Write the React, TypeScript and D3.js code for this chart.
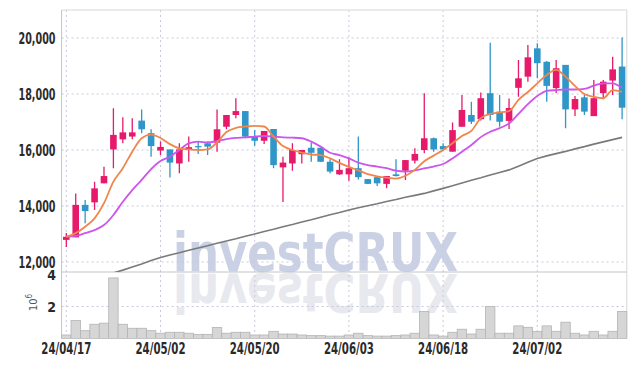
import React from "react";
import * as d3 from "d3";

const dates = [
  "24/04/17","24/04/18","24/04/19","24/04/22","24/04/23","24/04/24","24/04/25","24/04/26","24/04/29","24/04/30",
  "24/05/02","24/05/03","24/05/07","24/05/08","24/05/09","24/05/10","24/05/13","24/05/14","24/05/16","24/05/17",
  "24/05/20","24/05/21","24/05/22","24/05/23","24/05/24","24/05/27","24/05/28","24/05/29","24/05/30","24/05/31",
  "24/06/03","24/06/04","24/06/05","24/06/07","24/06/10","24/06/11","24/06/12","24/06/13","24/06/14","24/06/17",
  "24/06/18","24/06/19","24/06/20","24/06/21","24/06/24","24/06/25","24/06/26","24/06/27","24/06/28","24/07/01",
  "24/07/02","24/07/03","24/07/04","24/07/05","24/07/08","24/07/09","24/07/10","24/07/11","24/07/12","24/07/15",
];

const open = [12790,12880,14040,14130,14810,16020,16380,16480,17050,16600,15980,16020,15520,16020,16140,16240,16260,16830,17250,17390,16500,16330,16750,15380,15520,15850,16080,16080,15580,15130,15130,15350,14960,15030,14790,15130,15260,15620,16000,16420,16140,15940,16830,17250,17100,18030,17370,17040,18220,18620,19630,19150,18210,19040,17450,17880,17210,18030,18480,18980];
const close = [12900,14040,13820,14630,15070,16540,16630,16630,16740,16140,16110,15550,16020,16100,16100,16120,16740,17250,17390,16480,16330,16680,15460,15550,16000,16000,15900,15580,15230,15290,15350,15030,14790,14810,15070,15070,15640,15860,16420,16020,16020,16710,17430,17010,17850,17250,17010,17500,18560,19310,19100,18290,18920,17450,17820,17370,17850,18440,18880,17510];
const high = [13040,14450,14210,14870,15400,17490,17170,17130,17450,16740,16300,16020,16240,16480,16300,16300,17450,17250,17850,17390,16710,16680,16750,15760,16240,16000,16270,16080,15670,15670,15740,16480,14960,15030,15070,15670,15640,16060,18030,16450,16240,16980,17960,17720,18050,19830,17960,17840,19210,19750,19810,19180,19210,19040,17930,17960,18500,18500,19330,20020];
const low = [12540,12880,13380,13860,14810,15350,16240,16380,16600,15760,15820,15020,15170,15580,15860,15820,15940,16740,17130,16420,16150,16210,15350,14140,15260,15520,15580,15580,15170,15110,14900,14950,14790,14710,14630,15050,14930,15520,15880,15940,16000,15940,16830,16930,17050,17050,16830,16750,17900,18440,18560,17720,18040,16780,17210,17250,17210,17810,17960,17100];
// volume in millions
const volume = [0.22,1.12,0.49,0.89,0.96,3.79,0.89,0.64,0.64,0.49,0.33,0.39,0.39,0.33,0.26,0.26,0.69,0.33,0.39,0.39,0.22,0.22,0.45,0.28,0.28,0.22,0.18,0.18,0.15,0.15,0.22,0.33,0.18,0.15,0.15,0.18,0.22,0.33,1.69,0.22,0.15,0.39,0.58,0.28,0.58,2.0,0.33,0.33,0.79,0.70,0.45,0.79,0.45,1.02,0.33,0.22,0.45,0.22,0.45,1.69];
const ma5 = [12900,13030,13260,13560,14100,14870,15350,15940,16420,16550,16430,16210,16060,16020,16000,16020,16270,16640,16790,16840,16860,16840,16480,16140,16000,15910,15840,15820,15700,15540,15400,15270,15140,15060,15010,14980,15080,15290,15600,15800,16000,16240,16500,16680,17140,17290,17340,17390,17790,18070,18380,18680,18860,18620,18290,18000,17900,17850,18140,18080];
const ma10 = [12900,12930,13030,13140,13320,13680,14150,14570,14930,15320,15610,15760,16000,16240,16300,16270,16320,16390,16430,16450,16480,16500,16480,16450,16440,16420,16300,16120,15900,15820,15700,15550,15460,15410,15350,15260,15230,15270,15340,15410,15500,15700,15940,16180,16460,16650,16780,16950,17290,17640,17930,18110,18140,18160,18160,18180,18300,18380,18380,18210];
const maLong = [11160,11250,11340,11430,11520,11610,11710,11820,11930,12050,12160,12250,12330,12420,12500,12580,12670,12750,12830,12920,13000,13090,13170,13260,13340,13430,13510,13600,13690,13770,13860,13940,14010,14080,14160,14230,14310,14380,14450,14540,14630,14720,14820,14920,15010,15110,15200,15290,15420,15560,15700,15790,15870,15950,16040,16120,16210,16290,16370,16450];

const priceTicks = [12000, 14000, 16000, 18000, 20000];
const volTicks = [2, 4];
const dateTickEvery = 10;

const W = 635, H = 366;
const L = 61.6, R = 626.8, TOP = 10, SPLIT = 272, BOT = 338.5;
const FONT = "'DejaVu Sans Condensed', 'DejaVu Sans', sans-serif";
const UP = "#e6196b", DOWN = "#2e96c8";
const GRID = "#c9c9dd";

export default function App() {
  const idx = d3.range(dates.length);
  const x = d3.scaleBand<number>().domain(idx).range([L, R]).padding(0);
  const bw = x.bandwidth();
  const cx = (i: number) => (x(i) as number) + bw / 2;
  const y = d3.scaleLinear().domain([11643, 21000]).range([SPLIT, TOP]);
  const yv = d3.scaleLinear().domain([0, 4.16]).range([BOT, SPLIT]);

  const mk = (arr: number[], curve: any) =>
    d3.line<number>().x((_, i) => cx(i)).y((v) => y(v)).curve(curve)(arr) || "";

  const tickIdx = idx.filter((i) => i % dateTickEvery === 0);

  return (
    <svg width={W} height={H} style={{ position: "absolute", left: 0, top: 0, background: "#fff" }}>
      <defs>
        <clipPath id="pc">
          <rect x={L} y={TOP} width={R - L} height={SPLIT - TOP} />
        </clipPath>
      </defs>
      <rect x={0} y={0} width={W} height={H} fill="#fff" />

      {/* watermark */}
      <text x={173} y={271} fontFamily={FONT} fontWeight="bold" fontSize={54} fill="#cbd1e4"
        textLength={285} lengthAdjust="spacingAndGlyphs">investCRUX</text>
      <g transform={`translate(0,${2 * 273}) scale(1,-1)`}>
        <text x={173} y={272} fontFamily={FONT} fontWeight="bold" fontSize={54} fill="#e8e8ef"
          textLength={285} lengthAdjust="spacingAndGlyphs">investCRUX</text>
      </g>

      {/* grid */}
      {priceTicks.map((t) => (
        <line key={"hg" + t} x1={L} x2={R} y1={y(t)} y2={y(t)} stroke={GRID} strokeDasharray="2,3" />
      ))}
      {volTicks.filter((t) => t < 4).map((t) => (
        <line key={"vg" + t} x1={L} x2={R} y1={yv(t)} y2={yv(t)} stroke={GRID} strokeDasharray="2,3" />
      ))}
      {tickIdx.map((i) => (
        <line key={"xg" + i} x1={cx(i)} x2={cx(i)} y1={TOP} y2={BOT} stroke={GRID} strokeDasharray="2,3" />
      ))}

      {/* frame */}
      <line x1={L} x2={R} y1={TOP} y2={TOP} stroke="#d8d8d8" />
      <line x1={R} x2={R} y1={TOP} y2={BOT} stroke="#d8d8d8" />
      <line x1={L} x2={R} y1={SPLIT} y2={SPLIT} stroke="#c4c4c4" />
      <line x1={L} x2={L} y1={TOP} y2={BOT} stroke="#c4c4c4" />

      {/* volume */}
      {volume.map((v, i) => (
        <rect key={"v" + i} x={x(i) as number} width={bw} y={yv(v)} height={BOT - yv(v)}
          fill="#d6d6d6" stroke="#b4b4b4" strokeWidth={0.8} />
      ))}
      <line x1={L} x2={R} y1={BOT} y2={BOT} stroke="#c4c4c4" />

      {/* price pane */}
      <g clipPath="url(#pc)">
        <path d={mk(maLong, d3.curveLinear)} fill="none" stroke="#7a7a7a" strokeWidth={1.6} />
        {idx.map((i) => {
          const up = close[i] >= open[i];
          const c = up ? UP : DOWN;
          const top = y(Math.max(open[i], close[i]));
          const bot = y(Math.min(open[i], close[i]));
          return (
            <g key={"c" + i}>
              <line x1={cx(i)} x2={cx(i)} y1={y(high[i])} y2={y(low[i])} stroke={c} strokeWidth={1.3} />
              <rect x={cx(i) - bw * 0.35} width={bw * 0.7} y={top} height={Math.max(1.2, bot - top)} fill={c} />
            </g>
          );
        })}
        <path d={mk(ma10, d3.curveMonotoneX)} fill="none" stroke="#cc55ee" strokeWidth={1.8} />
        <path d={mk(ma5, d3.curveMonotoneX)} fill="none" stroke="#f0864c" strokeWidth={1.8} />
      </g>

      {/* y labels */}
      {priceTicks.map((t) => (
        <text key={"yl" + t} x={55.5} y={y(t) + 5.5} textAnchor="end" fontFamily={FONT} fontWeight="bold" fontSize={15}
          fill="#2a2a2a" textLength={37} lengthAdjust="spacingAndGlyphs">{d3.format(",")(t)}</text>
      ))}
      {volTicks.map((t) => (
        <text key={"vl" + t} x={56} y={yv(t) + 5.5} textAnchor="end" fontFamily={FONT} fontWeight="bold" fontSize={14} fill="#2a2a2a">{t}</text>
      ))}
      <text transform="translate(37,311) rotate(-90)" fontFamily={FONT} fontSize={11} fill="#555">
        10<tspan dy={-5} fontSize={8}>6</tspan>
      </text>

      {/* x labels */}
      {tickIdx.map((i) => (
        <text key={"xl" + i} x={cx(i)} y={354} textAnchor="middle" fontFamily={FONT} fontWeight="bold" fontSize={15}
          fill="#2a2a2a" textLength={50} lengthAdjust="spacingAndGlyphs">{dates[i]}</text>
      ))}
    </svg>
  );
}
